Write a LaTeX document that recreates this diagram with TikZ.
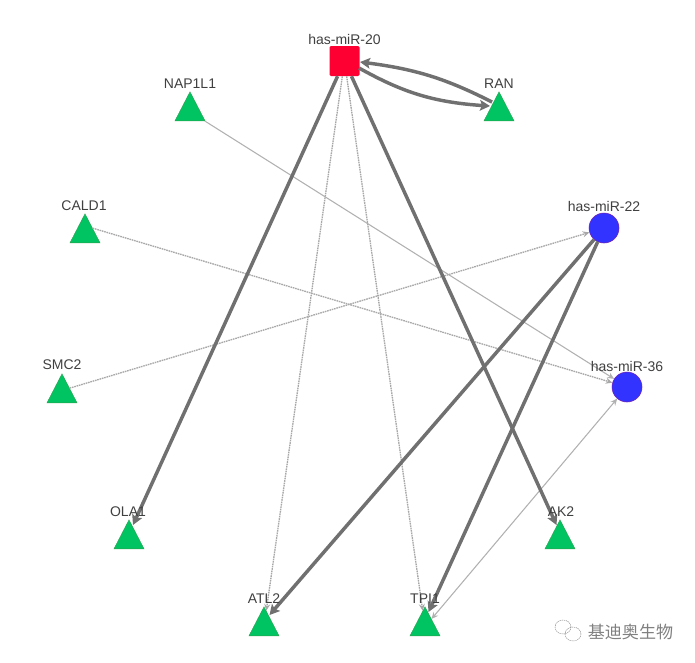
\documentclass[tikz,border=0pt]{standalone}
\usepackage{fontspec}
\setmainfont{Liberation Sans}
\newfontfamily\cjk{Noto Sans CJK SC}
\usetikzlibrary{shapes.geometric,arrows.meta,bending}
\definecolor{edgegray}{HTML}{707070}
\definecolor{thingray}{HTML}{A8A8A8}
\definecolor{trigreen}{HTML}{00C462}
\definecolor{cirblue}{HTML}{3333FF}
\definecolor{sqred}{HTML}{FF0033}
\definecolor{labelgray}{HTML}{404040}
\tikzset{
 tri/.style={isosceles triangle,isosceles triangle stretches,shape border rotate=90,fill=trigreen,draw=trigreen!80!red,line width=.3pt,inner sep=0pt,minimum height=21.75pt,minimum width=22.5pt,anchor=lower side},
 cir/.style={circle,fill=cirblue,draw=cirblue!70!red,line width=.4pt,inner sep=0pt,minimum size=22.5pt},
 sq/.style={rectangle,rounded corners=1pt,fill=sqred,inner sep=0pt,minimum size=22.5pt},
 lab/.style={text=labelgray,font=\fontsize{10.5pt}{12pt}\selectfont,inner sep=0pt},
 heavy/.style={draw=edgegray,line width=2.6pt,-{Stealth[length=7.5pt,width=8pt,inset=1.5pt]}},
 dotty/.style={draw=thingray,line width=1pt,dash pattern=on 1.2pt off .6pt,-{Stealth[length=5pt,width=4.5pt]}},
 lightline/.style={draw=thingray!90!white,line width=.8pt,-{Stealth[length=5pt,width=4.5pt]}},
}
\begin{document}
\begin{tikzpicture}[x=.75pt,y=-.75pt]
\useasboundingbox (0,0) rectangle (695,662);
\node[sq] (m20) at (344.5,61) {};
\node[cir] (m22) at (604,228) {};
\node[cir] (m36) at (627,387) {};
\node[tri] (ran) at (499,121) {};
\node[tri] (nap) at (190,121) {};
\node[tri] (cald) at (85,243) {};
\node[tri] (smc) at (62,403) {};
\node[tri] (ola) at (129,549) {};
\node[tri] (atl) at (264,636) {};
\node[tri] (tpi) at (425,636) {};
\node[tri] (ak) at (560,549) {};
\coordinate (olaTip) at (133,525);
\coordinate (akTip) at (556.5,525);
\coordinate (atlTip) at (269.5,615);
\coordinate (tpiTip) at (428.5,612);
\coordinate (ranIn) at (490,106);
\coordinate (ranOut) at (492,102);
\coordinate (m20In) at (360,62);
\coordinate (m20Out) at (359,68);
\draw[dotty] (m20) -- (atl);
\draw[dotty] (m20) -- (tpi);
\draw[dotty] (cald.right side) -- (m36);
\draw[dotty] (smc.right side) -- (m22);
\draw[lightline] (nap) -- (m36);
\draw[lightline,<->,>={Stealth[length=5pt,width=4.5pt]}] (tpi) -- (m36);
\draw[heavy] (m20) -- (olaTip);
\draw[heavy] (m20) -- (akTip);
\draw[heavy] (m22) -- (atlTip);
\draw[heavy] (m22) -- (tpiTip);
\draw[heavy] (ranOut) to[bend right=10] (m20In);
\draw[heavy] (m20Out) to[bend right=13] (ranIn);
\node[lab] (l20) at (344.5,39) {has-miR-20};
\node[lab] (lnap) at (190,84) {NAP1L1};
\node[lab] (lran) at (499,84) {RAN};
\node[lab] (lcald) at (84,206) {CALD1};
\node[lab] (l22) at (604,206) {has-miR-22};
\node[lab] (lsmc) at (62,365) {SMC2};
\node[lab] (l36) at (627,366) {has-miR-36};
\node[lab] (lola) at (128,512) {OLA1};
\node[lab] (lak) at (561,512) {AK2};
\node[lab] (latl) at (264,599) {ATL2};
\node[lab] (ltpi) at (425,599) {TPI1};
\node[text=gray,font=\cjk\fontsize{12.8pt}{14pt}\selectfont,inner sep=0pt] (wm) at (630.5,631.5) {基迪奥生物};
\draw[gray,line width=.3pt,dash pattern=on 1pt off .5pt] (563,627) ellipse (8 and 7) (573,634) ellipse (8 and 7);
\end{tikzpicture}
\end{document}
